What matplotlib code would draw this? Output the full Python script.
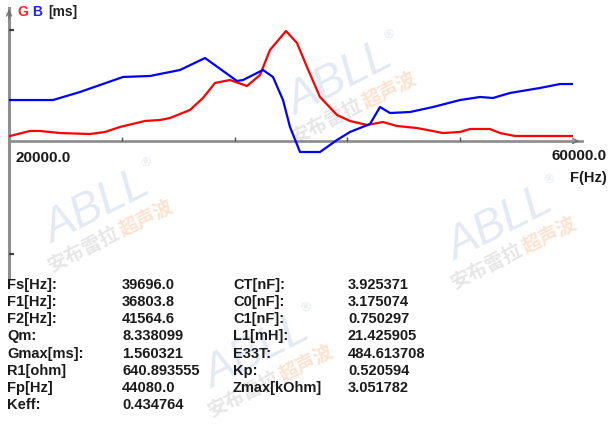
import numpy as np
import matplotlib
matplotlib.use("Agg")
import matplotlib.pyplot as plt

# ---- data ----
g_freq = [20071, 21489, 22199, 23617, 25745, 26809, 27872, 29645, 30709, 31418,
          32837, 33759, 34610, 35674, 36879, 37801, 38511, 39645, 40426, 41135,
          42057, 43262, 44184, 45390, 46525, 47518, 48936, 50780, 51986, 52695,
          54113, 54823, 55887, 59929]
g_ms = [0.071, 0.142, 0.142, 0.113, 0.099, 0.128, 0.199, 0.284, 0.298, 0.326,
        0.440, 0.610, 0.823, 0.865, 0.780, 0.936, 1.291, 1.560, 1.390, 1.049,
        0.624, 0.369, 0.284, 0.227, 0.269, 0.213, 0.184, 0.113, 0.128, 0.170,
        0.170, 0.113, 0.071, 0.071]

b_freq = [20071, 23121, 25035, 28085, 30000, 32128, 33901, 36170, 36596, 38014,
          38723, 39433, 39929, 40638, 42057, 43262, 44184, 45603, 46312, 47021,
          48440, 50071, 51986, 53404, 54326, 55532, 57660, 59078, 59929]
b_ms = [0.581, 0.581, 0.695, 0.908, 0.922, 1.007, 1.177, 0.851, 0.865, 1.007,
        0.908, 0.581, 0.199, -0.156, -0.156, 0.014, 0.128, 0.241, 0.482, 0.397,
        0.411, 0.482, 0.581, 0.624, 0.610, 0.681, 0.752, 0.808, 0.808]

x_min, x_max = 20000, 60000
x_ticks = [28000, 36000, 44000, 52000, 60000]
y_ticks = [1.57, -1.60]

left_names = ["Fs[Hz]:", "F1[Hz]:", "F2[Hz]:", "Qm:", "Gmax[ms]:", "R1[ohm]", "Fp[Hz]", "Keff:"]
left_values = ["39696.0", "36803.8", "41564.6", "8.338099", "1.560321", "640.893555", "44080.0", "0.434764"]
right_names = ["CT[nF]:", "C0[nF]:", "C1[nF]:", "L1[mH]:", "E33T:", "Kp:", "Zmax[kOhm]"]
right_values = ["3.925371", "3.175074", "0.750297", "21.425905", "484.613708", "0.520594", "3.051782"]

W, H = 612, 428
FONT = "Liberation Sans"
CJK = ["Noto Sans CJK SC", "DejaVu Sans"]


def fx(px):
    return px / W


def fy(py):
    return 1 - py / H


fig = plt.figure(figsize=(W / 100, H / 100), dpi=100)
fig.patch.set_facecolor("white")

# ---- faint watermarks ----
ang = 27
d = np.array([np.cos(np.radians(ang)), np.sin(np.radians(ang))])
for cx, cy in [(97, 208), (340, 80), (500, 225), (257, 353)]:
    fig.text(fx(cx), fy(cy), "ABLL", fontsize=33, style="italic", family=FONT,
             color="#e3eaf5", rotation=ang, ha="center", va="center",
             rotation_mode="anchor", zorder=0)
    fig.text(fx(cx + 55 * d[0]), fy(cy - 58 * d[1] - 20), "®", fontsize=9,
             color="#e3eaf5", rotation=ang, ha="center", va="center",
             rotation_mode="anchor", zorder=0)
    ccx, ccy = cx + 14, cy + 28
    p1 = (ccx - 30 * d[0], ccy + 30 * d[1])
    p2 = (ccx + 40 * d[0], ccy - 40 * d[1])
    fig.text(fx(p1[0]), fy(p1[1]), "安布雷拉", fontsize=14, weight="bold", family=CJK,
             color="#e6e6e6", rotation=ang, ha="center", va="center",
             rotation_mode="anchor", zorder=0)
    fig.text(fx(p2[0]), fy(p2[1]), "超声波", fontsize=14, weight="bold", family=CJK,
             color="#fde3cf", rotation=ang, ha="center", va="center",
             rotation_mode="anchor", zorder=0)

# ---- plot axes ----
k = 1.56 / 110
ax = fig.add_axes([fx(9), fy(277), fx(573) - fx(9), fy(8) - fy(277)])
ax.set_xlim(x_min, x_max)
ax.set_ylim(-136 * k, 133 * k)
ax.patch.set_alpha(0)
ax.set_zorder(1)
for s in ax.spines.values():
    s.set_visible(False)
ax.set_xticks([])
ax.set_yticks([])

axis_col = "#8f8f8f"
# x axis with arrow
x_end = x_max + 9 * (x_max - x_min) / 564
ax.plot([x_min, x_end], [0, 0], color=axis_col, lw=2, clip_on=False, zorder=2)
ax.annotate("", xy=(x_end, 0), xytext=(x_max, 0),
            arrowprops=dict(arrowstyle="->", color="#707070", lw=1, mutation_scale=9),
            annotation_clip=False)
ax.vlines(x_ticks, 0, 4 * k, color="#505050", lw=1, zorder=3)
# y axis with arrow
ax.axvline(x_min, color=axis_col, lw=2.2, clip_on=False, zorder=2)
ax.annotate("", xy=(x_min, 133 * k + 0.02), xytext=(x_min, 120 * k),
            arrowprops=dict(arrowstyle="->", color="#707070", lw=1, mutation_scale=9),
            annotation_clip=False)
ax.hlines(y_ticks, x_min, x_min + 5 * (x_max - x_min) / 564, color="#404040", lw=1.6, zorder=3)

ax.plot(g_freq, g_ms, color="#ff0000", lw=1.6, zorder=4)
ax.plot(b_freq, b_ms, color="#0000ff", lw=1.6, zorder=5)

# ---- labels ----
fig.text(fx(17), fy(12), "G", color="#ff2020", fontsize=10, weight="bold", family=FONT, va="center")
fig.text(fx(32), fy(12), "B", color="#2020ff", fontsize=10, weight="bold", family=FONT, va="center")
fig.text(fx(48), fy(12), "[ms]", color="#202020", fontsize=10, weight="bold", family=FONT, va="center")

fig.text(fx(15), fy(158), f"{x_min:.1f}", fontsize=11, weight="bold", family=FONT,
         color="#1a1a1a", va="center", ha="left")
fig.text(fx(607), fy(156), f"{x_max:.1f}", fontsize=11, weight="bold", family=FONT,
         color="#1a1a1a", va="center", ha="right")
fig.text(fx(607), fy(178), "F(Hz)", fontsize=10.5, weight="bold", family=FONT,
         color="#1a1a1a", va="center", ha="right")

# ---- parameter table ----
row0, dy = 285, 17.15
for i, (n, v) in enumerate(zip(left_names, left_values)):
    y = fy(row0 + i * dy)
    fig.text(fx(7), y, n, fontsize=10.5, weight="bold", family=FONT, color="#1a1a1a", va="center")
    fig.text(fx(122), y, v, fontsize=10.5, weight="bold", family=FONT, color="#1a1a1a", va="center")
for i, (n, v) in enumerate(zip(right_names, right_values)):
    y = fy(row0 + i * dy)
    fig.text(fx(233), y, n, fontsize=10.5, weight="bold", family=FONT, color="#1a1a1a", va="center")
    fig.text(fx(348), y, v, fontsize=10.5, weight="bold", family=FONT, color="#1a1a1a", va="center")

fig.savefig("out.png", dpi=100)
